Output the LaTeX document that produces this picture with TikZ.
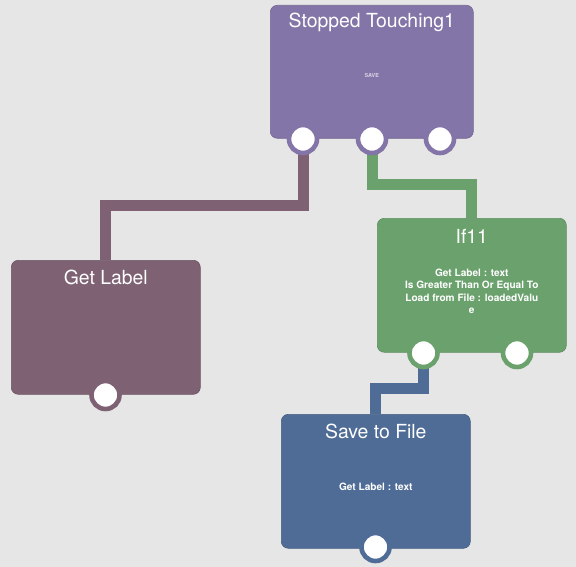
\documentclass[tikz,border=0pt]{standalone}
\usepackage{fontspec}
\setmainfont{TeX Gyre Heros}
\usetikzlibrary{backgrounds}
\definecolor{bggray}{RGB}{230,230,230}
\definecolor{blockpurple}{RGB}{131,117,167}
\definecolor{blockgreen}{RGB}{106,161,109}
\definecolor{blockmaroon}{RGB}{126,97,115}
\definecolor{blockblue}{RGB}{79,108,150}

\begin{document}
\begin{tikzpicture}[x=1pt,y=-1pt,
  block/.style={draw=#1!88!black,fill=#1,line width=0.6pt,rounded corners=7pt,
    minimum width=189pt,minimum height=134pt,anchor=north west,inner sep=0pt},
  port/.style={circle,fill=white,draw=#1,line width=4.6pt,minimum size=28pt,inner sep=0pt},
  wire/.style={draw=#1,line width=11pt},
  title/.style={text=white,font=\fontsize{19.4}{21}\selectfont,inner sep=0pt},
  body/.style={text=white,font=\bfseries\fontsize{10.1}{12.3}\selectfont,align=center,inner sep=0pt}]

\begin{scope}[on background layer]
\fill[bggray] (0,0) rectangle (576,567);
\end{scope}
\useasboundingbox (0,0) rectangle (576,567);

% ============ Stopped Touching1 ============
\node[block=blockpurple,minimum width=203pt,minimum height=133pt] (st) at (270,5) {};
\node[title] (st-title) at ([yshift=-17pt]st.north) {Stopped Touching1};
\node[text=white!70!blockpurple,font=\bfseries\fontsize{5.5}{6}\selectfont,inner sep=0pt] (st-body) at ([yshift=-4pt]st.center) {SAVE};
\foreach \i/\x in {1/303,2/372,3/440}{
  \node[port=blockpurple] (st-p\i) at (\x,139) {};
}

% ============ Get Label ============
\node[block=blockmaroon] (gl) at (11,260) {};
\node[title] (gl-title) at ([yshift=-17pt]gl.north) {Get Label};
\node[port=blockmaroon] (gl-p1) at (105.5,395) {};

% ============ If11 ============
\node[block=blockgreen] (if) at (377,218) {};
\node[title] (if-title) at ([yshift=-18pt]if.north) {If11};
\node[body] (if-body) at ([yshift=-6pt]if.center) {Get Label : text\\Is Greater Than Or Equal To\\Load from File : loadedValu\\e};
\foreach \i/\x in {1/423.5,2/517}{
  \node[port=blockgreen] (if-p\i) at (\x,353) {};
}

% ============ Save to File ============
\node[block=blockblue] (sf) at (281,414) {};
\node[title] (sf-title) at ([yshift=-17pt]sf.north) {Save to File};
\node[body] (sf-body) at ([yshift=-6pt]sf.center) {Get Label : text};
\node[port=blockblue] (sf-p1) at (375.5,547) {};

% ============ wires ============
\coordinate (bend-gl) at (0,205.5);
\coordinate (bend-if) at (0,185);
\coordinate (bend-sf) at (0,388.5);
\begin{scope}[on background layer]
\draw[wire=blockmaroon] (st-p1.center) -- (st-p1 |- bend-gl) -| (gl.north);
\draw[wire=blockgreen] (st-p2.center) -- (st-p2 |- bend-if) -| (if.north);
\draw[wire=blockblue] (if-p1.center) -- (if-p1 |- bend-sf) -| (sf.north);
\end{scope}

\end{tikzpicture}
\end{document}
